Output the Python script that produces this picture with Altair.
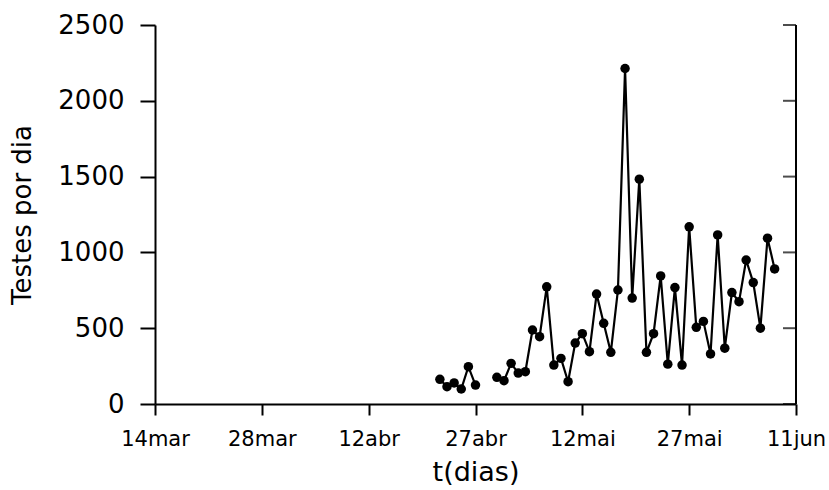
import altair as alt
import pandas as pd

tick_labels = ["14mar", "28mar", "12abr", "27abr", "12mai", "27mai", "11jun"]
tick_days = [0, 15, 30, 45, 60, 75, 90]
y_ticks = [0, 500, 1000, 1500, 2000, 2500]

days = [40, 41, 42, 43, 44, 45,
        48, 49, 50, 51, 52, 53, 54, 55, 56, 57, 58, 59, 60, 61, 62, 63, 64, 65,
        66, 67, 68, 69, 70, 71, 72, 73, 74, 75, 76, 77, 78, 79, 80, 81, 82, 83,
        84, 85, 86, 87]
tests = [163, 114, 139, 99, 246, 125,
         176, 154, 268, 204, 213, 488, 444, 773, 257, 301, 147, 402, 464, 345,
         725, 532, 341, 752, 2213, 699, 1483, 341, 464, 845, 263, 768, 257, 1169,
         506, 545, 330, 1115, 368, 735, 675, 950, 801, 500, 1094, 891]
segment = [0] * 6 + [1] * 40

df = pd.DataFrame({"dia": days, "testes": tests, "seg": segment})
ticks_df = pd.DataFrame({"dia": [90] * len(y_ticks), "testes": y_ticks})
edge_df = pd.DataFrame({"dia": [90], "testes": [0], "testes2": [2500]})

W, H = 641, 379
FONT = "DejaVu Sans"

label_expr = "[" + ",".join("'%s'" % s for s in tick_labels) + "][round(datum.value/15)]"

xscale = alt.Scale(domain=[0, 90], nice=False)
yscale = alt.Scale(domain=[0, 2500], nice=False)

xaxis = alt.Axis(values=tick_days, labelExpr=label_expr, title="t(dias)",
                 grid=False, domainColor="black", domainWidth=2, tickColor="black",
                 tickWidth=2, tickSize=11, labelFontSize=21, labelFont=FONT,
                 labelColor="black", labelPadding=13, titleFontSize=27,
                 titleFont=FONT, titleFontWeight="normal", titleColor="black",
                 titlePadding=10, labelFlush=False)

yaxis = alt.Axis(values=y_ticks, format="d", title="Testes por dia",
                 grid=False, domainColor="black", domainWidth=2, tickColor="black",
                 tickWidth=2, tickSize=15, labelFontSize=26, labelFont=FONT,
                 labelColor="black", labelPadding=16, titleFontSize=26,
                 titleFont=FONT, titleFontWeight="normal", titleColor="black",
                 titlePadding=22)

X = alt.X("dia:Q", scale=xscale, axis=xaxis)
Y = alt.Y("testes:Q", scale=yscale, axis=yaxis)

line = alt.Chart(df).mark_line(color="black", strokeWidth=2.2).encode(
    x=X, y=Y, detail="seg:N",
)

points = alt.Chart(df).mark_circle(color="black", size=90, opacity=1).encode(
    x=X, y=Y,
)

right_ticks = alt.Chart(ticks_df).mark_tick(
    color="black", orient="horizontal", size=13, thickness=2, xOffset=-6.5
).encode(x=X, y=Y)

right_edge = alt.Chart(edge_df).mark_rule(color="black", strokeWidth=2).encode(
    x=X, y=Y, y2="testes2:Q",
)

chart = alt.layer(line, points, right_ticks, right_edge).properties(
    width=W, height=H,
    autosize=alt.AutoSizeParams(type="none"),
    padding={"left": 155, "top": 25, "right": 33, "bottom": 86},
    background="white",
).configure_view(stroke=None)

chart.save("out.html", embed_options={"renderer": "svg", "actions": False})
